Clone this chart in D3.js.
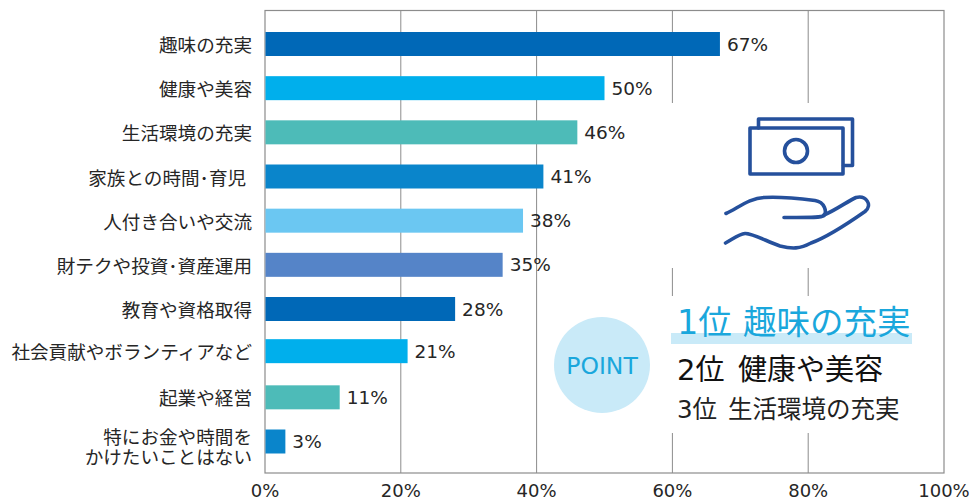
<!DOCTYPE html>
<html><head><meta charset="utf-8">
<script src="https://cdn.jsdelivr.net/npm/d3@7"></script>
<style>html,body{margin:0;background:#fff}svg{display:block}
text{font-family:"DejaVu Sans","Noto Sans CJK JP",sans-serif;fill:#262626}</style>
</head><body><svg id="c" width="972" height="500"></svg>
<script>
const categories=["趣味の充実","健康や美容","生活環境の充実","家族との時間･育児 ","人付き合いや交流","財テクや投資･資産運用","教育や資格取得","社会貢献やボランティアなど","起業や経営","特にお金や時間を|かけたいことはない"];
const values=[67,50,46,41,38,35,28,21,11,3];
const barColors=["#0068b7","#00afec","#4dbbb8","#0a85cb","#6bc7f2","#5584c8","#0068b7","#00afec","#4dbbb8","#0a85cb"];
const ticks=[0,20,40,60,80,100];
const rankNos=["1位","2位","3位"];
const rankNames=["趣味の充実","健康や美容","生活環境の充実"];
const rankSizes=[33.5,29,24.5];
const rankColors=["#1aa7dc","#111","#222"];
const rankBase=[334,380,418];
const rankNameX=[743,738,728];

const svg=d3.select("#c");
const x=d3.scaleLinear().domain([0,100]).range([265,944]);
const yBase=d3.scalePoint().domain(categories).range([44,441.5]);
// the reference's eighth row sits slightly high
const y=d=>yBase(d)-(d===categories[7]?2:0);
const plotTop=10.5,plotBottom=473;
const grid="#8c8c8c";
svg.append("g").selectAll("line").data(ticks.slice(1,-1)).join("line")
 .attr("x1",d=>x(d)).attr("x2",d=>x(d)).attr("y1",plotTop).attr("y2",plotBottom).attr("stroke",grid).attr("stroke-width",1);
svg.append("rect").attr("x",x(0)).attr("y",plotTop).attr("width",x(100)-x(0)).attr("height",plotBottom-plotTop).attr("fill","none").attr("stroke",grid).attr("stroke-width",1.2);
// white panels covering the gridlines behind the callout
svg.append("rect").attr("x",x(50)+30).attr("y",103).attr("width",260).attr("height",165).attr("fill","#fff");
svg.append("rect").attr("x",x(50)+30).attr("y",296).attr("width",260).attr("height",137).attr("fill","#fff");

svg.append("g").selectAll("rect").data(categories).join("rect")
 .attr("x",x(0)+.5).attr("y",d=>y(d)-12).attr("height",24)
 .attr("width",(d,i)=>x(values[i])-x(0)-.5).attr("fill",(d,i)=>barColors[i]);
svg.append("g").selectAll("text").data(categories).join("text")
 .attr("x",(d,i)=>x(values[i])+7).attr("y",d=>y(d)+6.5).attr("font-size",18.5).text((d,i)=>values[i]+"%");
const lab=svg.append("g").selectAll("text").data(categories).join("text")
 .attr("text-anchor","end").attr("font-size",18.6).attr("xml:space","preserve");
lab.each(function(d){
  const parts=d.split("|"),t=d3.select(this);
  parts.forEach((p,i)=>t.append("tspan").attr("x",252)
    .attr("y",y(d)+8+(parts.length>1?(i===0?-6:14):0)).text(p));
});
svg.append("g").selectAll("text").data(ticks).join("text")
 .attr("x",d=>x(d)).attr("y",497).attr("text-anchor","middle").attr("font-size",18).text(d=>d+"%");

// POINT badge
svg.append("circle").attr("cx",602).attr("cy",365).attr("r",48).attr("fill","#c9eaf8");
svg.append("text").attr("x",602).attr("y",374).attr("text-anchor","middle").attr("font-size",23.5).style("fill","#1aa7dc").text("POINT");
svg.append("rect").attr("x",671).attr("y",333).attr("width",241).attr("height",11).attr("fill","#c9eaf8");
svg.append("g").selectAll("text").data(rankNos).join("text")
 .attr("x",677).attr("y",(d,i)=>rankBase[i]).attr("font-size",(d,i)=>rankSizes[i]).style("fill",(d,i)=>rankColors[i]).text(d=>d);
svg.append("g").selectAll("text").data(rankNames).join("text")
 .attr("x",(d,i)=>rankNameX[i]).attr("y",(d,i)=>rankBase[i]).attr("font-size",(d,i)=>rankSizes[i]).style("fill",(d,i)=>rankColors[i]).text(d=>d);

// money and hand icon
const ic=svg.append("g").attr("fill","none").attr("stroke","#25509c").attr("stroke-width",3.6).attr("stroke-linejoin","round").attr("stroke-linecap","round");
ic.append("rect").attr("x",750).attr("y",128).attr("width",93).attr("height",46);
ic.append("path").attr("d","M758.5 128V119H852.5V165.5H843.5");
ic.append("circle").attr("cx",796).attr("cy",151).attr("r",11.5);
ic.append("path").attr("d","M726 213.5C738 208 750 198 764 197.5C778 196.5 803 199 815 200.5C825 202 827 212 824 215.5C821 218 805 217.5 784 217.5");
ic.append("path").attr("d","M824 215C836 210 848 201 856 197.5C866 195 873 205 865 211.5C850 222 825 238 811 243C800 249 792 249 780 246C768 242 752 233 745 233.5C739 234 733 239 725.5 243");
</script></body></html>
